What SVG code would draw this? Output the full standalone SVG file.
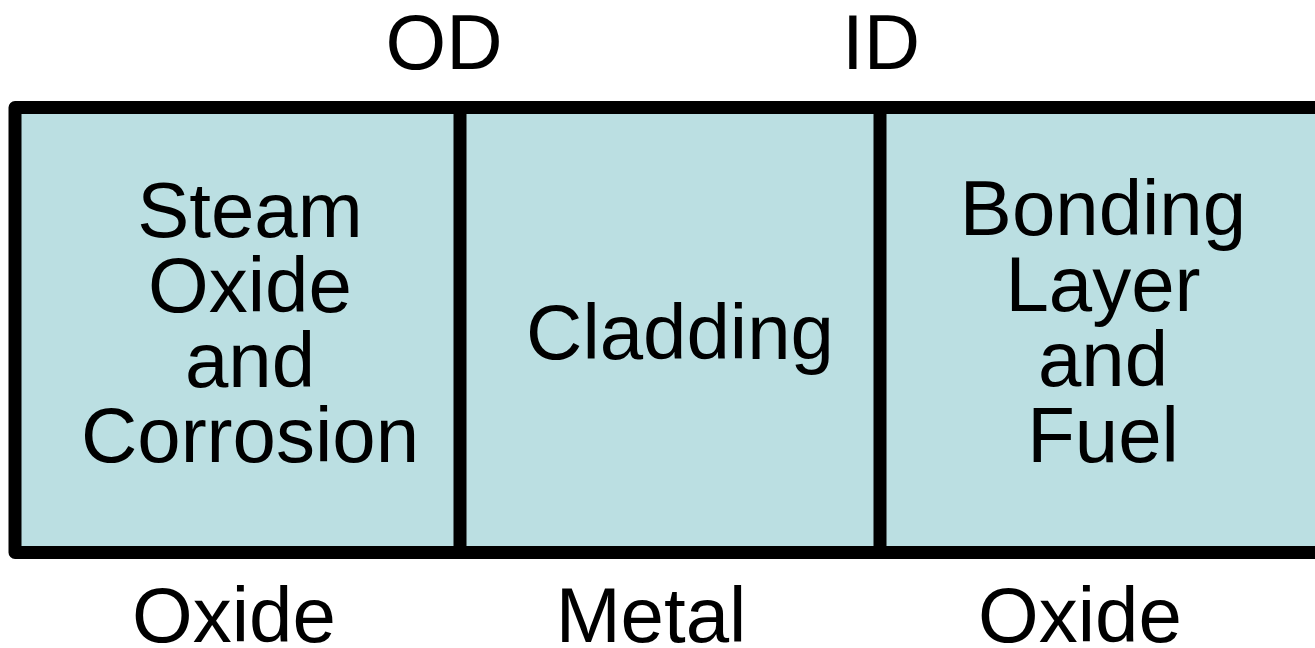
<svg xmlns="http://www.w3.org/2000/svg" width="1315" height="648" viewBox="0 0 1315 648">
<style>
.t{font-family:"Liberation Sans",Arial,sans-serif;font-size:78px;fill:#000;text-anchor:middle}
.ln{stroke:#000;stroke-width:13;fill:none;stroke-linejoin:round}
</style>
<rect width="1315" height="648" fill="#fff"/>
<g id="frame">
<rect x="15" y="107.5" width="1320" height="445" fill="#bbdfe2"/>
<path class="ln" d="M1330,107.5 H15 V552.5 H1330"/>
</g>
<g id="connectors">
<line class="ln" x1="460" y1="107.5" x2="460" y2="552.5"/>
<line class="ln" x1="880" y1="107.5" x2="880" y2="552.5"/>
</g>
<g id="node-oxide-layer">
<text class="t" x="250" y="237">Steam</text>
<text class="t" x="250" y="312">Oxide</text>
<text class="t" x="250" y="387">and</text>
<text class="t" x="250" y="462">Corrosion</text>
</g>
<g id="node-cladding">
<text class="t" x="680" y="359">Cladding</text>
</g>
<g id="node-fuel">
<text class="t" x="1103" y="235">Bonding</text>
<text class="t" x="1103" y="311">Layer</text>
<text class="t" x="1103" y="386">and</text>
<text class="t" x="1103" y="462">Fuel</text>
</g>
<g id="labels">
<text class="t" x="444" y="69">OD</text>
<text class="t" x="881" y="69">ID</text>
<text class="t" x="234" y="642">Oxide</text>
<text class="t" x="651" y="642">Metal</text>
<text class="t" x="1080" y="642">Oxide</text>
</g>
</svg>
